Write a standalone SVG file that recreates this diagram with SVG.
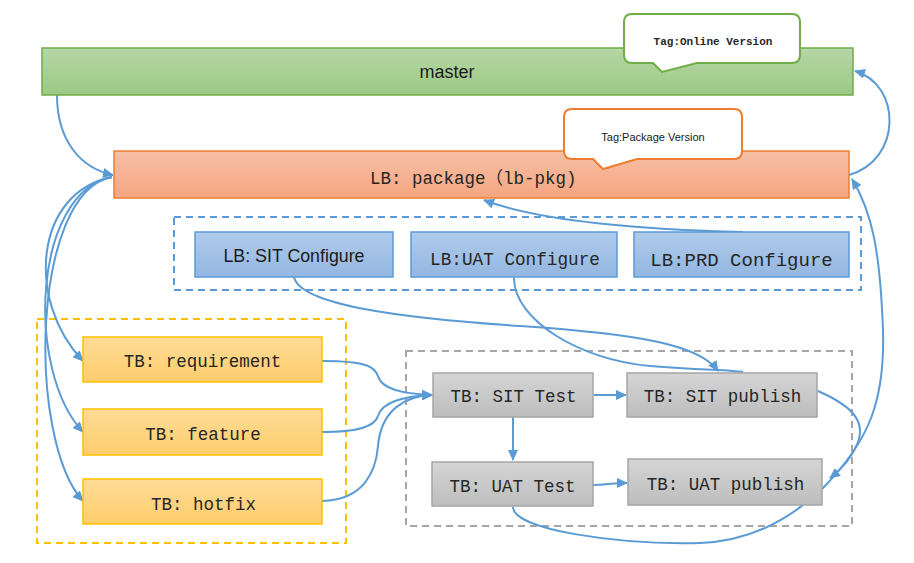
<svg xmlns="http://www.w3.org/2000/svg" width="914" height="563" viewBox="0 0 914 563">
<defs>
<linearGradient id="gGreen" x1="0" y1="0" x2="0" y2="1"><stop offset="0" stop-color="#b6d6a6"/><stop offset="1" stop-color="#9cc984"/></linearGradient>
<linearGradient id="gOrange" x1="0" y1="0" x2="0" y2="1"><stop offset="0" stop-color="#f7c0a6"/><stop offset="1" stop-color="#f4a57f"/></linearGradient>
<linearGradient id="gBlue" x1="0" y1="0" x2="0" y2="1"><stop offset="0" stop-color="#b0cbea"/><stop offset="1" stop-color="#93b7e1"/></linearGradient>
<linearGradient id="gYellow" x1="0" y1="0" x2="0" y2="1"><stop offset="0" stop-color="#ffdc97"/><stop offset="1" stop-color="#fecd6c"/></linearGradient>
<linearGradient id="gGray" x1="0" y1="0" x2="0" y2="1"><stop offset="0" stop-color="#d5d5d5"/><stop offset="1" stop-color="#bdbdbd"/></linearGradient>
<marker id="arr" markerUnits="userSpaceOnUse" markerWidth="12" markerHeight="10" refX="10" refY="5" orient="auto">
<path d="M0,0 L11,5 L0,10 Z" fill="#5b9bd5"/>
</marker>
</defs>
<style>
.mono{font-family:"Liberation Mono","Noto Sans CJK SC",monospace;fill:#262626;text-anchor:middle}
.sans{font-family:"Liberation Sans",Arial,sans-serif;fill:#1a1a1a;text-anchor:middle}
.grp{fill:none;stroke-width:2;stroke-dasharray:7,5}
.conn path{fill:none;stroke:#5b9bd5;stroke-width:2}
.yb{fill:url(#gYellow);stroke:#ffc000;stroke-width:1.5}
.gb{fill:url(#gGray);stroke:#a5a5a5;stroke-width:1.5}
.bb{fill:url(#gBlue);stroke:#5b9bd5;stroke-width:1.5}
</style>
<rect width="914" height="563" fill="#ffffff"/>

<g id="groups">
<rect id="lb-config-group" class="grp" x="174" y="217" width="687" height="73" stroke="#5b9bd5"/>
<rect id="tb-branch-group" class="grp" x="37" y="319" width="309" height="224" stroke="#ffc000"/>
<rect id="tb-test-group" class="grp" x="406" y="351" width="446" height="175" stroke="#a5a5a5" stroke-width="1.6"/>
</g>

<g class="conn" id="connectors">
<path d="M57,95 C57,140 80,168 113,175" marker-end="url(#arr)"/>
<path d="M112,177 C35,192 25,300 83,361" marker-end="url(#arr)"/>
<path d="M112,177 C33,192 25,370 83,432" marker-end="url(#arr)"/>
<path d="M112,177 C31,192 27,440 83,501" marker-end="url(#arr)"/>
<path d="M322,361 C370,361 375,368 378,376 C382,390 405,394 432,395" marker-end="url(#arr)"/>
<path d="M322,432 C360,432 375,426 378,416 C382,402 405,396 432,395" marker-end="url(#arr)"/>
<path d="M322,501 C365,500 376,470 378,446 C381,410 405,396 432,395" marker-end="url(#arr)"/>
<path d="M594,395 L626,395" marker-end="url(#arr)"/>
<path d="M513,417 L513,460" marker-end="url(#arr)"/>
<path d="M593,485 C605,485 612,483 627,483" marker-end="url(#arr)"/>
<path d="M294,277 C300,305 400,318 520,326 C640,334 700,345 718,371" marker-end="url(#arr)"/>
<path d="M514,278 C514,320 580,360 650,366 C700,370 730,370 743,372"/>
<path d="M743,232 C650,230 540,222 484,200" marker-end="url(#arr)"/>
<path d="M849,175 C902,160 902,85 855,71" marker-end="url(#arr)"/>
<path d="M513,507 C513,530 620,545 700,543 C760,541 800,510 823,488 C870,440 885,400 883,330 C880,250 872,212 852,179" marker-end="url(#arr)"/>
<path d="M818,391 C850,405 866,420 858,442 C852,458 842,469 830,478" marker-end="url(#arr)"/>
</g>

<g id="master">
<rect x="42" y="48" width="811" height="47" fill="url(#gGreen)" stroke="#70ad47" stroke-width="1.5"/>
<text class="sans" x="447" y="78" font-size="18">master</text>
</g>
<g id="tag-online">
<path d="M632,14 H792 Q800,14 800,22 V55 Q800,63 792,63 H697 L662,72 L653,63 H632 Q624,63 624,55 V22 Q624,14 632,14 Z" fill="#ffffff" stroke="#70ad47" stroke-width="2"/>
<text class="mono" x="713" y="45" font-size="11" font-weight="bold">Tag:Online Version</text>
</g>
<g id="package">
<rect x="114" y="151" width="735" height="47" fill="url(#gOrange)" stroke="#ed7d31" stroke-width="1.5"/>
<text x="370" y="184" font-size="17.5" style="font-family:'Liberation Mono',monospace;fill:#262626">LB: package<tspan style="font-family:'Noto Sans CJK SC',sans-serif">（</tspan>lb-pkg)</text>
</g>
<g id="tag-package">
<path d="M572,109 H734 Q742,109 742,117 V151 Q742,159 734,159 H637 L603,169 L593,159 H572 Q564,159 564,151 V117 Q564,109 572,109 Z" fill="#ffffff" stroke="#ed7d31" stroke-width="2"/>
<text class="sans" x="653" y="141" font-size="11">Tag:Package Version</text>
</g>

<g id="lb-sit-configure">
<rect class="bb" x="195" y="232" width="198" height="45"/>
<text class="sans" x="294" y="262" font-size="17.8">LB: SIT Configure</text>
</g>
<g id="lb-uat-configure">
<rect class="bb" x="411" y="232" width="206" height="45"/>
<text class="mono" x="515" y="265" font-size="17.7">LB:UAT Configure</text>
</g>
<g id="lb-prd-configure">
<rect class="bb" x="634" y="232" width="215" height="45"/>
<text class="mono" x="741.5" y="265.5" font-size="19">LB:PRD Configure</text>
</g>

<g id="tb-requirement">
<rect class="yb" x="83" y="337" width="239" height="45"/>
<text class="mono" x="202.5" y="367" font-size="17.5">TB: requirement</text>
</g>
<g id="tb-feature">
<rect class="yb" x="83" y="409" width="239" height="46"/>
<text class="mono" x="203" y="439.5" font-size="17.5">TB: feature</text>
</g>
<g id="tb-hotfix">
<rect class="yb" x="83" y="479" width="239" height="45"/>
<text class="mono" x="203.5" y="509.5" font-size="17.5">TB: hotfix</text>
</g>

<g id="tb-sit-test">
<rect class="gb" x="433" y="373" width="160" height="44"/>
<text class="mono" x="513.5" y="401.5" font-size="17.5">TB: SIT Test</text>
</g>
<g id="tb-sit-publish">
<rect class="gb" x="627" y="373" width="190" height="44"/>
<text class="mono" x="722.5" y="401.5" font-size="17.5">TB: SIT publish</text>
</g>
<g id="tb-uat-test">
<rect class="gb" x="432" y="462" width="161" height="44"/>
<text class="mono" x="512.5" y="491.5" font-size="17.5">TB: UAT Test</text>
</g>
<g id="tb-uat-publish">
<rect class="gb" x="628" y="459" width="194" height="46"/>
<text class="mono" x="725.5" y="489.5" font-size="17.5">TB: UAT publish</text>
</g>
</svg>
